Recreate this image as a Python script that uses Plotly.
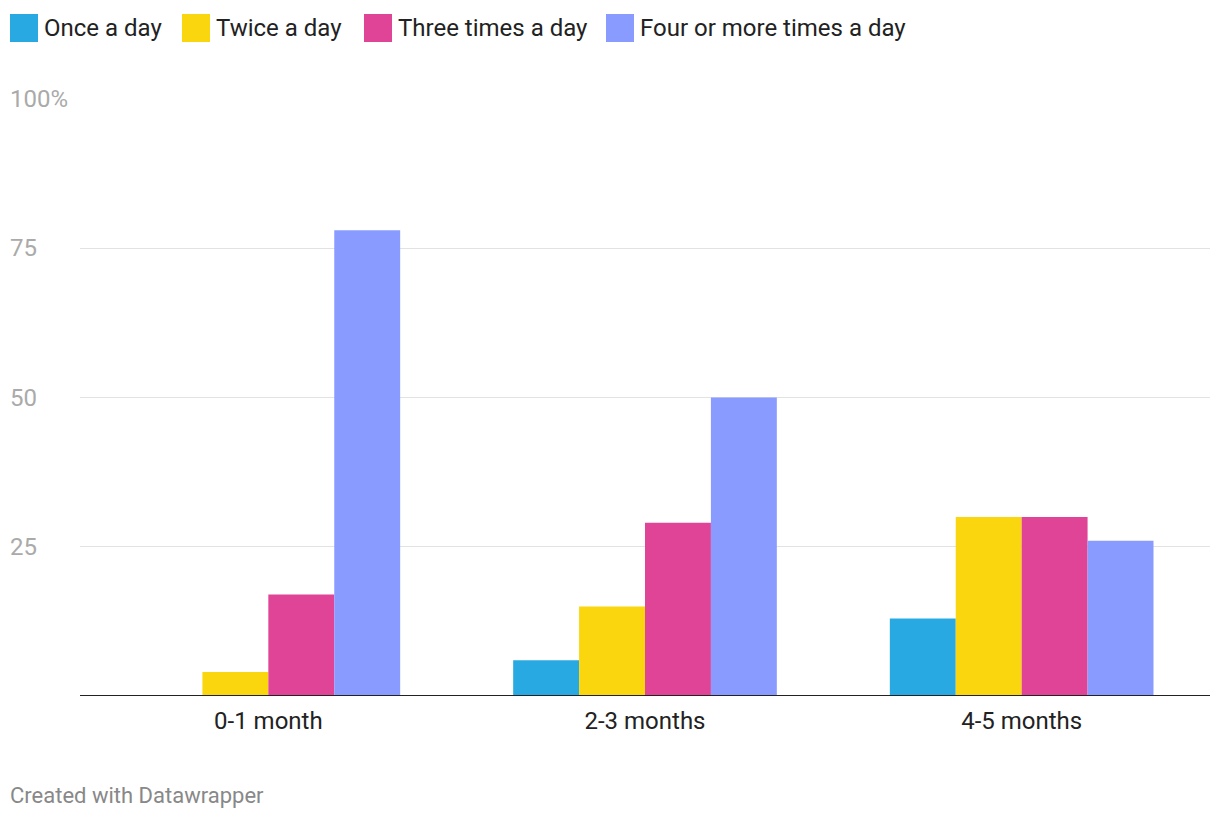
import plotly.graph_objects as go

categories = ["0-1 month", "2-3 months", "4-5 months"]
series_names = ["Once a day", "Twice a day", "Three times a day", "Four or more times a day"]
once = [0, 6, 13]
twice = [4, 15, 30]
three = [17, 29, 30]
four = [78, 50, 26]
colors = ["#29a9e1", "#fad60f", "#e04497", "#8a9bff"]
y_ticks = [25, 50, 75, 100]
y_tick_labels = ["25", "50", "75", "100%"]

W, H = 1220, 818
L, R, T, B = 80, 10, 99, 122
PW, PH = W - L - R, H - T - B

def px(x):
    return (x - L) / PW

def py(y):
    return (H - B - y) / PH

fig = go.Figure()
for name, vals, c in zip(series_names, [once, twice, three, four], colors):
    fig.add_trace(go.Bar(x=categories, y=vals, name=name, marker=dict(color=c, line=dict(width=0)),
                         showlegend=False))

annotations = []
shapes = []
# y tick labels, left aligned
for v, lab in zip(y_ticks, y_tick_labels):
    annotations.append(dict(x=px(10), y=v, xref="paper", yref="y", text=lab, showarrow=False,
                            xanchor="left", yanchor="middle", xshift=-2,
                            font=dict(family="Roboto", size=24, color="#aaaaaa")))
# legend
legend_x = [10, 182, 364, 606]
for name, c, lx in zip(series_names, colors, legend_x):
    shapes.append(dict(type="rect", xref="paper", yref="paper", x0=px(lx), x1=px(lx + 28),
                       y0=py(42), y1=py(14), fillcolor=c, line=dict(width=0)))
    annotations.append(dict(x=px(lx + 34), y=py(28), xref="paper", yref="paper", text=name,
                            showarrow=False, xanchor="left", yanchor="middle", xshift=-2,
                            font=dict(family="Roboto", size=24, color="#222222")))
# credit
annotations.append(dict(x=px(10), y=py(795), xref="paper", yref="paper", text="Created with Datawrapper",
                        showarrow=False, xanchor="left", yanchor="middle", xshift=-2,
                        font=dict(family="Roboto", size=22, color="#888888")))
# baseline
shapes.append(dict(type="line", xref="paper", yref="y", x0=0, x1=1, y0=0, y1=0, layer="above",
                   line=dict(color="#222222", width=2)))

fig.update_layout(
    width=W, height=H,
    margin=dict(l=L, r=R, t=T, b=B, autoexpand=False),
    paper_bgcolor="white", plot_bgcolor="white",
    barmode="group", bargap=0.3, bargroupgap=0,
    showlegend=False,
    xaxis=dict(showgrid=False, showline=False, ticks="", zeroline=False, ticklabelstandoff=8,
               tickfont=dict(family="Roboto", size=24, color="#222222")),
    yaxis=dict(range=[0, 100], tickvals=y_ticks, showticklabels=False, showgrid=True,
               gridcolor="#e2e2e2", gridwidth=1, zeroline=False, showline=False),
    annotations=annotations, shapes=shapes,
)
fig.write_html("out.html", config={"displayModeBar": False},
               post_script="document.body.style.margin='0px';")
